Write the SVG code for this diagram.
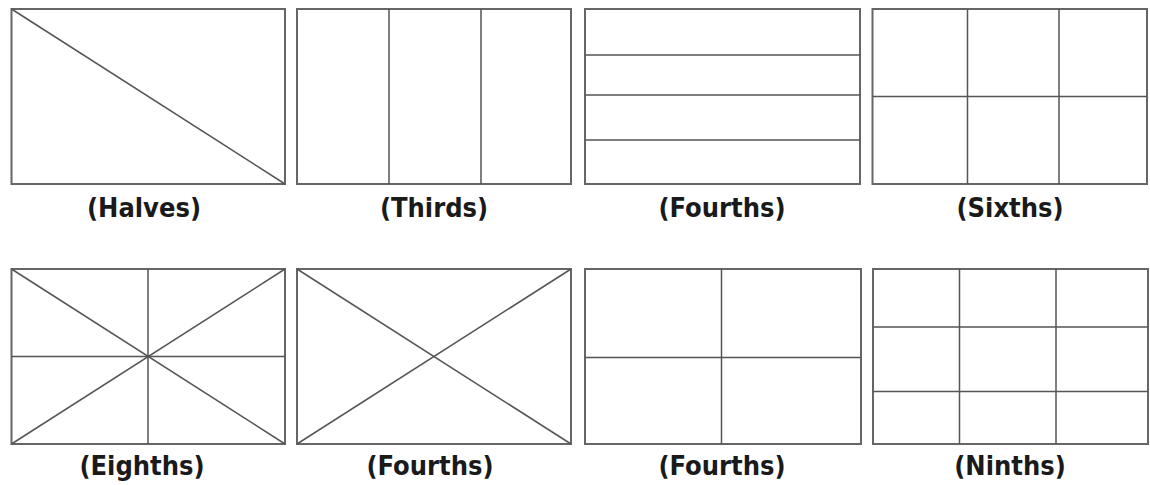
<svg xmlns="http://www.w3.org/2000/svg" width="1150" height="485" viewBox="0 0 1150 485">
<style>
.f{fill:#fff;stroke:#666;stroke-width:2}
.l{stroke:#555;stroke-width:1.5;fill:none}
.t{font-family:"DejaVu Sans Condensed","DejaVu Sans",sans-serif;font-weight:bold;font-size:27px;fill:#1a1a1a;text-anchor:middle}
</style>
<rect width="1150" height="485" fill="#fff"/>
<g id="halves">
<rect class="f" x="11.5" y="9" width="273.5" height="175"/>
<line class="l" x1="11.5" y1="9" x2="285" y2="184"/>
<text class="t" x="144" y="217">(Halves)</text>
</g>
<g id="thirds">
<rect class="f" x="297" y="9" width="274" height="175"/>
<line class="l" x1="389" y1="9" x2="389" y2="184"/>
<line class="l" x1="481" y1="9" x2="481" y2="184"/>
<text class="t" x="434" y="217">(Thirds)</text>
</g>
<g id="fourths1">
<rect class="f" x="585" y="9" width="275" height="175"/>
<line class="l" x1="585" y1="55" x2="860" y2="55"/>
<line class="l" x1="585" y1="95" x2="860" y2="95"/>
<line class="l" x1="585" y1="140" x2="860" y2="140"/>
<text class="t" x="722" y="217">(Fourths)</text>
</g>
<g id="sixths">
<rect class="f" x="872.5" y="9" width="274.5" height="175"/>
<line class="l" x1="967.5" y1="9" x2="967.5" y2="184"/>
<line class="l" x1="1059" y1="9" x2="1059" y2="184"/>
<line class="l" x1="872.5" y1="96.5" x2="1147" y2="96.5"/>
<text class="t" x="1010" y="217">(Sixths)</text>
</g>
<g id="eighths">
<rect class="f" x="11.5" y="269" width="273.5" height="175"/>
<line class="l" x1="148" y1="269" x2="148" y2="444"/>
<line class="l" x1="11.5" y1="356.5" x2="285" y2="356.5"/>
<line class="l" x1="11.5" y1="269" x2="285" y2="444"/>
<line class="l" x1="285" y1="269" x2="11.5" y2="444"/>
<text class="t" x="142" y="475">(Eighths)</text>
</g>
<g id="fourths2">
<rect class="f" x="297" y="269" width="274" height="175"/>
<line class="l" x1="297" y1="269" x2="571" y2="444"/>
<line class="l" x1="571" y1="269" x2="297" y2="444"/>
<text class="t" x="430" y="475">(Fourths)</text>
</g>
<g id="fourths3">
<rect class="f" x="585" y="269" width="276" height="175"/>
<line class="l" x1="721.5" y1="269" x2="721.5" y2="444"/>
<line class="l" x1="585" y1="357.5" x2="861" y2="357.5"/>
<text class="t" x="722" y="475">(Fourths)</text>
</g>
<g id="ninths">
<rect class="f" x="873" y="269" width="275" height="175"/>
<line class="l" x1="959.5" y1="269" x2="959.5" y2="444"/>
<line class="l" x1="1056" y1="269" x2="1056" y2="444"/>
<line class="l" x1="873" y1="327" x2="1148" y2="327"/>
<line class="l" x1="873" y1="391.5" x2="1148" y2="391.5"/>
<text class="t" x="1010" y="475">(Ninths)</text>
</g>
</svg>
